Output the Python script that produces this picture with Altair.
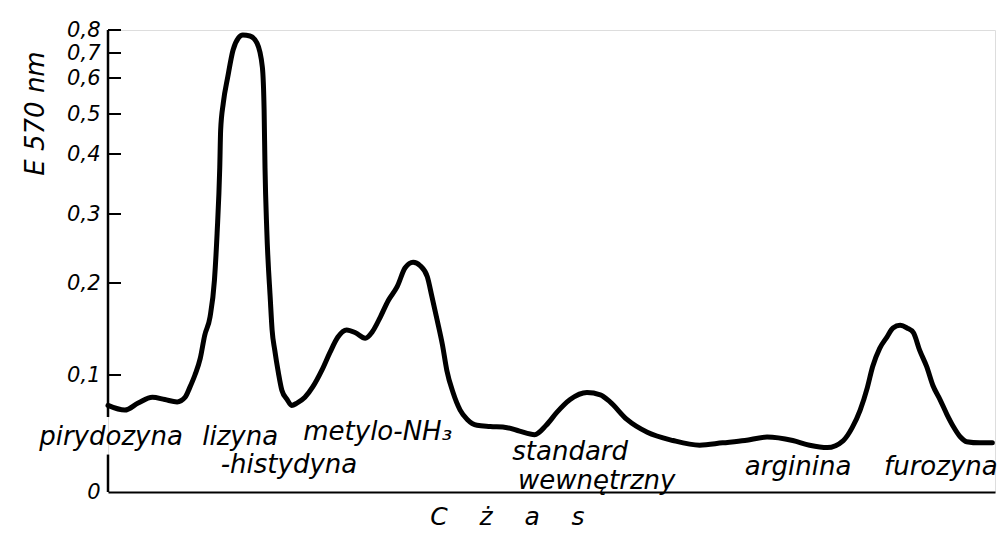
import altair as alt
import pandas as pd

# chromatogram trace: time (arbitrary, 0-100) and extinction E at 570 nm
czas = [0, 1.9, 3.4, 5.0, 6.4, 7.8, 8.7, 9.2, 9.8, 10.4, 10.9, 11.5, 12.0, 12.3, 12.6, 12.7,
        13.0, 13.5, 14.1, 14.7, 15.2, 16.0, 16.8, 17.4, 17.6, 17.7, 17.9, 18.3, 18.5, 18.8,
        19.2, 19.6, 20.2, 20.7, 21.3, 22.2, 23.1, 24.1, 25.0, 25.9, 26.9, 27.9, 29.0, 29.8,
        30.7, 31.6, 32.6, 33.5, 34.4, 35.2, 36.0, 36.5, 37.1, 37.7, 38.2, 38.9, 39.7, 40.5,
        41.6, 43.1, 45.0, 46.4, 48.1, 49.4, 50.6, 52.1, 54.0, 55.5, 56.6, 58.5, 60.8, 63.7,
        66.7, 69.3, 71.8, 74.3, 77.2, 79.1, 81.1, 82.9, 83.9, 84.8, 85.6, 86.2, 87.0, 87.8,
        88.5, 89.3, 90.1, 90.8, 91.5, 92.3, 93.0, 93.8, 94.6, 95.3, 96.1, 96.8, 98.3, 99.7]
ekstynkcja = [0.074, 0.070, 0.076, 0.081, 0.079, 0.077, 0.081, 0.089, 0.100, 0.118, 0.143,
              0.163, 0.204, 0.272, 0.378, 0.460, 0.531, 0.604, 0.713, 0.765, 0.778, 0.774,
              0.743, 0.644, 0.511, 0.378, 0.277, 0.182, 0.149, 0.127, 0.103, 0.087, 0.079,
              0.074, 0.076, 0.081, 0.090, 0.105, 0.124, 0.141, 0.149, 0.146, 0.140, 0.147,
              0.163, 0.181, 0.196, 0.222, 0.230, 0.225, 0.209, 0.186, 0.160, 0.133, 0.105,
              0.085, 0.070, 0.062, 0.057, 0.056, 0.055, 0.052, 0.049, 0.057, 0.068, 0.079,
              0.085, 0.083, 0.077, 0.062, 0.051, 0.044, 0.040, 0.042, 0.044, 0.047, 0.044,
              0.040, 0.038, 0.044, 0.055, 0.070, 0.089, 0.109, 0.129, 0.141, 0.151, 0.154,
              0.151, 0.146, 0.127, 0.109, 0.091, 0.079, 0.066, 0.056, 0.047, 0.043, 0.042,
              0.042]

# peak annotations
etykiety = ["pirydozyna", "lizyna", "metylo-NH\u2083", "-histydyna", "standard",
            "wewn\u0119trzny", "arginina", "furozyna"]
etyk_czas = [0.34, 14.9, 30.4, 20.4, 52.1, 55.1, 77.8, 93.9]
etyk_e = [0.047, 0.047, 0.051, 0.023, 0.034, 0.009, 0.021, 0.021]

# y axis ticks (non-linear extinction scale) and their pixel heights from the top
ticks_e = [0, 0.1, 0.2, 0.3, 0.4, 0.5, 0.6, 0.7, 0.8]
ticks_px = [462, 345, 253, 184, 124, 84, 48, 23, 0]

# y axis line segments (broken by the first label)
os_od = [0.8, 0.032]
os_do = [0.064, 0.0]

FONT = "DejaVu Sans"
NB = "\u00a0" * 4
X_TITLE = "C" + NB + "\u017c" + NB + "a" + NB + "s"

df = pd.DataFrame({"t": czas, "E": ekstynkcja})
lab = pd.DataFrame({"t": etyk_czas, "E": etyk_e, "txt": etykiety})
tk = pd.DataFrame({"E": ticks_e[1:]})
ax = pd.DataFrame({"a": os_od, "b": os_do})

yscale = alt.Scale(type="linear", domain=ticks_e, range=ticks_px, nice=False, zero=False)
xscale = alt.Scale(domain=[0, 100], nice=False, zero=False)

line = alt.Chart(df).mark_line(color="black", strokeWidth=5, interpolate="monotone",
                               strokeCap="round", strokeJoin="round").encode(
    x=alt.X("t:Q", scale=xscale,
            axis=alt.Axis(labels=False, ticks=False, grid=False, domainColor="black",
                          domainWidth=2, title=X_TITLE,
                          titleFont=FONT, titleFontSize=25, titleFontStyle="italic",
                          titleFontWeight="normal", titleColor="black",
                          titleX=399, titleY=24, titleBaseline="middle")),
    y=alt.Y("E:Q", scale=yscale,
            axis=alt.Axis(values=ticks_e, domain=False, ticks=False, grid=False,
                          labelOverlap=False, labelFlush=False, labelBound=False,
                          labelExpr="datum.value == 0 ? '0' : replace(format(datum.value, '.1f'), '.', ',')",
                          labelFont=FONT, labelFontSize=21, labelFontStyle="italic",
                          labelColor="black", labelPadding=8,
                          title="E 570 nm", titleFont=FONT, titleFontSize=26,
                          titleFontStyle="italic", titleFontWeight="normal",
                          titleColor="black", titleAngle=270, titleX=-73, titleY=83,
                          titleAlign="center", titleBaseline="middle")),
)

tick_rules = alt.Chart(tk).mark_rule(color="black", strokeWidth=2).encode(
    y=alt.Y("E:Q", scale=yscale), x=alt.value(0), x2=alt.value(13))

axis_line = alt.Chart(ax).mark_rule(color="black", strokeWidth=2.5).encode(
    y=alt.Y("a:Q", scale=yscale), y2="b:Q", x=alt.value(0))

texts = alt.Chart(lab).mark_text(font=FONT, fontSize=26, fontStyle="italic",
                                 color="black", align="center", baseline="middle").encode(
    x=alt.X("t:Q", scale=xscale), y=alt.Y("E:Q", scale=yscale), text="txt:N")

chart = alt.layer(axis_line, tick_rules, line, texts).properties(
    width=887, height=462,
    autosize=alt.AutoSizeParams(type="none"),
    padding={"left": 100, "top": 22, "right": 3, "bottom": 40},
).configure_view(stroke=None).configure(background="white")

chart.save("out.html", embed_options={"renderer": "svg", "actions": False})
